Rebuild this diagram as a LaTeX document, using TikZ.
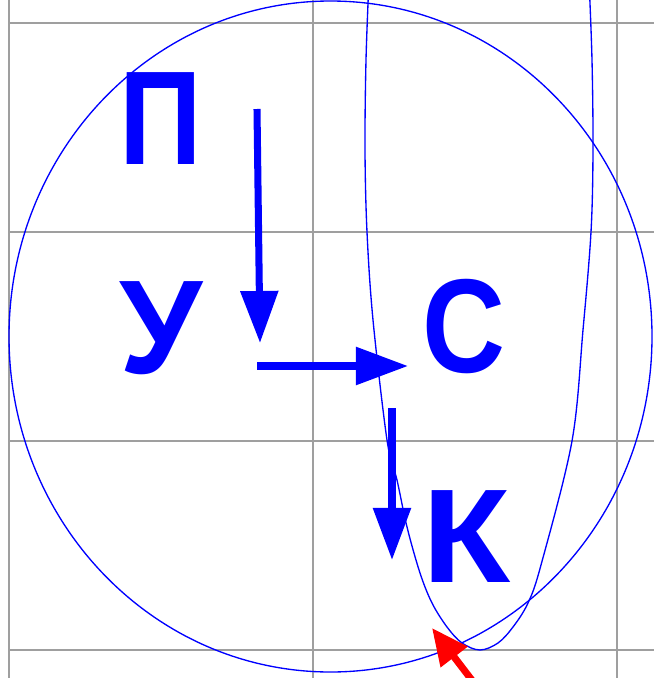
\documentclass[tikz,border=0pt]{standalone}
\usepackage{fontspec}
\usepackage{tikz}
\usetikzlibrary{arrows.meta,positioning}
\newfontfamily\letterfont{Liberation Sans}
\newfontfamily\narrowfont[FakeStretch=0.86]{Liberation Sans}
\newfontfamily\widefont[FakeStretch=1.08]{Liberation Sans}

\begin{document}
\begin{tikzpicture}[
    x=0.025cm, y=-0.025cm,
    gridline/.style={draw=gray!75, line width=1.4pt},
    orbit/.style={draw=blue, line width=0.95pt},
    letter/.style={text=blue, inner sep=0pt, anchor=base, font=\letterfont\bfseries\fontsize{95}{95}\selectfont},
    narrow/.style={letter, font=\narrowfont\bfseries\fontsize{95}{95}\selectfont},
    wide/.style={letter, font=\widefont\bfseries\fontsize{95}{95}\selectfont},
    flow/.style={draw=blue, line width=5pt, -{Triangle[length=37pt, width=26pt]}},
    pointer/.style={draw=red, line width=5pt, -{Triangle[length=26pt, width=23pt]}}
]

\clip (0,0) rectangle (654,678);

\foreach \gx in {9,313,617}
    \draw[gridline] (\gx,0) -- (\gx,678);
\foreach \gy in {23,232,441,650}
    \draw[gridline] (9,\gy) -- (654,\gy);

\draw[orbit] (330.5,336.5) ellipse [x radius=321.5, y radius=335.5];

\draw[orbit] plot[smooth, tension=0.55] coordinates {
    (369,-20) (366,60) (365,150) (367,232) (373,320) (387,440) (397,480)
    (407,527) (420,573) (432,603) (447,627) (462,643) (480,650) (498,643)
    (513,627) (528,603) (541,565) (572,441) (583,330) (591,232) (593,150)
    (592,60) (589,-20)};

\node[narrow] (pe) at (161,164) {П};
\node[letter] (u) at (161,373) {У};
\node[narrow] (es) at (464,372) {С};
\node[wide] (ka) at (467,582) {К};

\coordinate (down1_start) at (257,109);
\coordinate (down1_end) at (260,343);
\coordinate (right_start) at (257,366);
\coordinate (right_end) at (408,366);
\coordinate (down2_start) at (392,408);
\coordinate (down2_end) at (392,560);
\coordinate (hit_start) at (484,696);
\coordinate (hit_end) at (432,628);

\draw[flow] (down1_start) -- (down1_end);
\draw[flow] (right_start) -- (right_end);
\draw[flow] (down2_start) -- (down2_end);
\draw[pointer] (hit_start) -- (hit_end);

\end{tikzpicture}
\end{document}
